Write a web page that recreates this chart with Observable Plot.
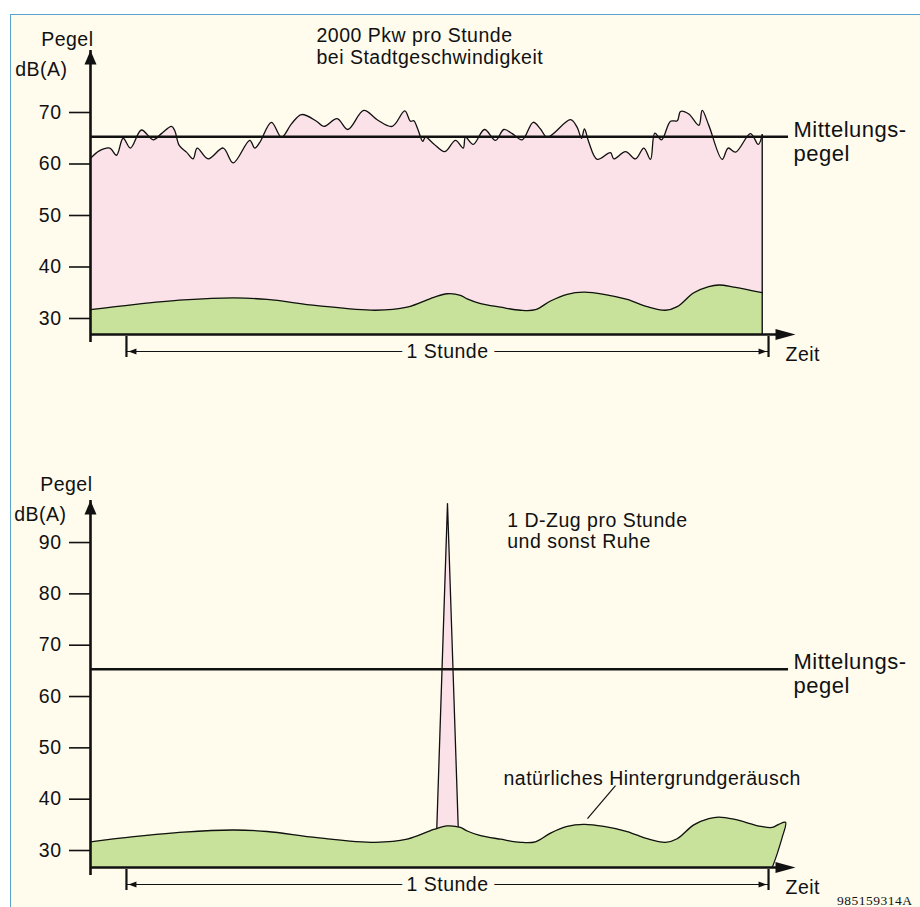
<!DOCTYPE html>
<html><head><meta charset="utf-8">
<script src="https://cdn.jsdelivr.net/npm/d3@7"></script>
<script src="https://cdn.jsdelivr.net/npm/@observablehq/plot@0.6"></script>
<style>
html,body{margin:0;padding:0;background:#fff;width:920px;height:907px;overflow:hidden;}
#frame{position:absolute;left:10px;top:14px;width:940px;height:920px;background:#fffcee;border-left:1.5px solid #5ba3cc;border-top:1.5px solid #5ba3cc;}
.panel{position:absolute;left:0;}
.panel svg text{letter-spacing:0.5px;}
</style></head><body>
<div id="frame"></div>
<div id="p1" class="panel" style="top:0px"></div>
<div id="p2" class="panel" style="top:440px"></div>
<script>
// ---- data (time in minutes, level in dB(A)) ----
const noiseMinutes = [-3.36,-2.50,-1.56,-0.93,-0.31,0.37,1.40,2.50,3.27,4.21,4.51,4.93,5.61,6.23,6.61,7.64,9.04,9.97,11.52,11.99,12.46,13.55,14.49,15.42,16.36,17.76,18.44,19.69,20.68,22.18,23.43,24.83,26.01,26.54,26.85,27.22,27.69,27.94,28.72,29.75,30.75,31.47,31.68,32.40,33.46,34.49,35.26,36.05,36.98,38.01,38.69,39.32,41.50,42.12,42.52,42.80,43.21,43.99,45.23,45.54,46.64,47.57,48.35,48.97,49.37,50.00,50.84,51.47,51.78,52.55,53.49,53.80,54.42,55.67,56.23,56.92,58.32,59.04,59.41];
const noiseDb = [61.1,62.6,63.1,61.7,65.0,63.1,66.6,64.7,65.9,67.3,66.5,63.6,62.3,61.0,63.1,61.0,63.1,60.2,64.6,63.1,64.2,68.1,65.2,67.8,69.6,68.3,67.3,68.8,66.7,70.4,68.6,67.3,70.3,68.3,68.4,66.8,64.4,65.2,63.9,62.4,64.6,63.1,65.2,63.8,66.7,64.6,66.7,65.9,64.7,68.1,66.8,65.2,68.6,67.1,65.0,66.8,64.2,60.9,62.2,61.0,62.4,61.0,63.1,60.9,66.0,64.7,68.3,68.4,70.2,69.7,67.5,70.4,67.5,60.9,63.1,62.3,65.9,63.8,65.7];
const bgMinutes = [-3.36,0.68,5.36,10.03,13.15,17.82,23.27,26.23,28.72,29.97,31.21,31.84,32.93,34.95,36.82,38.22,39.63,41.19,42.74,44.61,46.79,48.66,50.37,51.47,53.02,54.42,55.36,56.76,59.41];
const bgDb = [31.7,32.7,33.6,34.0,33.7,32.5,31.6,32.2,34.1,34.8,34.5,33.8,33.0,32.2,31.6,31.7,33.4,34.7,35.1,34.7,33.7,32.3,31.6,32.3,35.0,36.2,36.5,36.1,35.0];
const bgTailMinutes = [59.3,60.35,60.96,61.59,61.28,60.81,60.35];
const bgTailDb = [34.7,34.5,35.1,35.5,32.6,29.4,26.7];
const spikeMinutes = [29.0,30.0,31.0];
const spikeDb = [34.3,97.6,34.7];
const ticksTop = [30,40,50,60,70];
const ticksBottom = [30,40,50,60,70,80,90];
const hourTicks = [0,60];
const mittelungspegel = 65.3;

// ---- scales / style ----
const xDomain = [-3.36, 62.52];
const yDomainTop = [26.89, 82.04];
const yDomainBottom = [26.69, 98.19];
const lineEnd = 61.87;
const ink = "#111";
const cream = "#fffcee";
const pink = "#fbe2e9";
const green = "#c8e19b";
const font = "'Liberation Sans', Arial, Helvetica, sans-serif";

const rows = (ts, vs) => ts.map((t, i) => ({t, v: vs[i]}));
const noise = rows(noiseMinutes, noiseDb);
const bg = rows(bgMinutes, bgDb);
const bg2 = rows(bgMinutes.slice(0, -1).concat(bgTailMinutes), bgDb.slice(0, -1).concat(bgTailDb));
const spike = rows(spikeMinutes, spikeDb);

const headShape = {draw(ctx, l, r) { ctx.moveTo(-r, 0); ctx.lineTo(0, -l); ctx.lineTo(r, 0); ctx.closePath(); }};

function frameMarks(yDomain, ticks, opts) {
  const [x0, x1] = xDomain, [y0, y1] = yDomain;
  return [
    Plot.axisY({ticks, tickSize: 21, tickPadding: 8, label: null, fontSize: 19.5, strokeWidth: 1.6}),
    Plot.axisX({ticks: hourTicks, tickSize: 21, tickFormat: () => "", label: null, strokeWidth: 2.2, dy: 2}),
    Plot.ruleX([x0], {y1: y0, y2: y1, strokeWidth: 2.6, insetTop: 8, stroke: ink}),
    Plot.ruleY([y0], {x1: x0, x2: x1, strokeWidth: 2.6, insetRight: 8, stroke: ink}),
    Plot.vector([0], {x: x0, y: y1, length: 14, r: 6, anchor: "end", shape: headShape, fill: ink, stroke: "none"}),
    Plot.vector([0], {x: x1, y: y0, length: 20, r: 5.5, rotate: 90, anchor: "end", shape: headShape, fill: ink, stroke: "none"}),
    // 1 Stunde bracket
    Plot.ruleY([y0], {x1: hourTicks[0], x2: hourTicks[1], dy: 17, strokeWidth: 1.2, stroke: ink}),
    Plot.vector([0], {x: hourTicks[0], y: y0, dy: 17, dx: 2, length: 8, r: 3, rotate: -90, anchor: "end", shape: headShape, fill: ink, stroke: "none"}),
    Plot.vector([0], {x: hourTicks[1], y: y0, dy: 17, dx: -2, length: 8, r: 3, rotate: 90, anchor: "end", shape: headShape, fill: ink, stroke: "none"}),
    Plot.text(["1 Stunde"], {x: (hourTicks[0] + hourTicks[1]) / 2, y: y0, dy: 17, text: d => d, lineAnchor: "middle", fill: ink, stroke: cream, strokeWidth: 14, paintOrder: "stroke", fontSize: 19.5}),
    Plot.text(["Zeit"], {x: x1, y: y0, dx: -10, dy: 26, text: d => d, textAnchor: "start", lineAnchor: "bottom", fill: ink, fontSize: 19.5}),
    Plot.text(["Pegel"], {x: x0, y: y1, dx: opts.pegelDx, dy: opts.pegelDy, text: d => d, textAnchor: "end", lineAnchor: "bottom", fill: ink, fontSize: 19.5}),
    Plot.text(["dB(A)"], {x: x0, y: y1, dx: opts.dbDx, dy: opts.dbDy, text: d => d, textAnchor: "end", lineAnchor: "bottom", fill: ink, fontSize: 19.5}),
    Plot.ruleY([mittelungspegel], {x1: x0, x2: lineEnd, strokeWidth: 2.6, stroke: ink}),
    Plot.text(["Mittelungs-\npegel"], {x: lineEnd, y: mittelungspegel, dx: 5, dy: 24, text: d => d, textAnchor: "start", lineAnchor: "bottom", lineHeight: 1.1, fill: ink, fontSize: 22})
  ];
}

const baseStyle = {background: "transparent", fontFamily: font, fontSize: "19.5px", color: ink, overflow: "visible"};

const chartTop = Plot.plot({
  width: 920, height: 440, marginLeft: 90, marginRight: 125, marginTop: 50, marginBottom: 106,
  x: {domain: xDomain}, y: {domain: yDomainTop},
  style: baseStyle,
  marks: [
    Plot.area(noise, {x1: "t", y1: yDomainTop[0], y2: "v", curve: "catmull-rom", fill: pink}),
    Plot.area(bg, {x1: "t", y1: yDomainTop[0], y2: "v", curve: "catmull-rom", fill: green}),
    Plot.line(bg, {x: "t", y: "v", curve: "catmull-rom", stroke: ink, strokeWidth: 1.3}),
    Plot.line(noise, {x: "t", y: "v", curve: "catmull-rom", stroke: ink, strokeWidth: 1.3}),
    Plot.ruleX([noise[noise.length - 1]], {x: "t", y1: yDomainTop[0], y2: "v", stroke: ink, strokeWidth: 1.4}),
    ...frameMarks(yDomainTop, ticksTop, {pegelDx: 3, pegelDy: -4.5, dbDx: -23, dbDy: 25}),
    Plot.text(["2000 Pkw pro Stunde\nbei Stadtgeschwindigkeit"], {x: 17.76, y: 79.42, text: d => d, textAnchor: "start", lineAnchor: "bottom", lineHeight: 1.12, fill: ink, fontSize: 19.5})
  ]
});
document.getElementById("p1").append(chartTop);

const chartBottom = Plot.plot({
  width: 920, height: 467, marginLeft: 90, marginRight: 125, marginTop: 60, marginBottom: 40,
  x: {domain: xDomain}, y: {domain: yDomainBottom},
  style: baseStyle,
  marks: [
    Plot.area(spike, {x1: "t", y1: yDomainBottom[0], y2: "v", fill: pink}),
    Plot.area(bg2, {x1: "t", y1: yDomainBottom[0], y2: "v", curve: "catmull-rom", fill: green}),
    Plot.line(bg2, {x: "t", y: "v", curve: "catmull-rom", stroke: ink, strokeWidth: 1.3}),
    Plot.line(spike, {x: "t", y: "v", stroke: ink, strokeWidth: 1.3}),
    ...frameMarks(yDomainBottom, ticksBottom, {pegelDx: 2, pegelDy: -10, dbDx: -24, dbDy: 20}),
    Plot.text(["1 D-Zug pro Stunde\nund sonst Ruhe"], {x: 35.58, y: 88.84, text: d => d, textAnchor: "start", lineAnchor: "bottom", lineHeight: 1.12, fill: ink, fontSize: 19.5}),
    Plot.text(["natürliches Hintergrundgeräusch"], {x: 35.23, y: 42.86, text: d => d, textAnchor: "start", lineAnchor: "bottom", fill: ink, fontSize: 19.5}),
    Plot.link([{x1: 45.7, y1: 42.66, x2: 43.08, y2: 36.2}], {x1: "x1", y1: "y1", x2: "x2", y2: "y2", stroke: ink, strokeWidth: 1.2}),
    Plot.text(["985159314A"], {x: 66.4, y: 19.3, text: d => d, textAnchor: "start", lineAnchor: "bottom", fill: ink, fontSize: 13.5, fontFamily: "'Liberation Serif', 'Times New Roman', serif"})
  ]
});
document.getElementById("p2").append(chartBottom);
</script>
</body></html>
